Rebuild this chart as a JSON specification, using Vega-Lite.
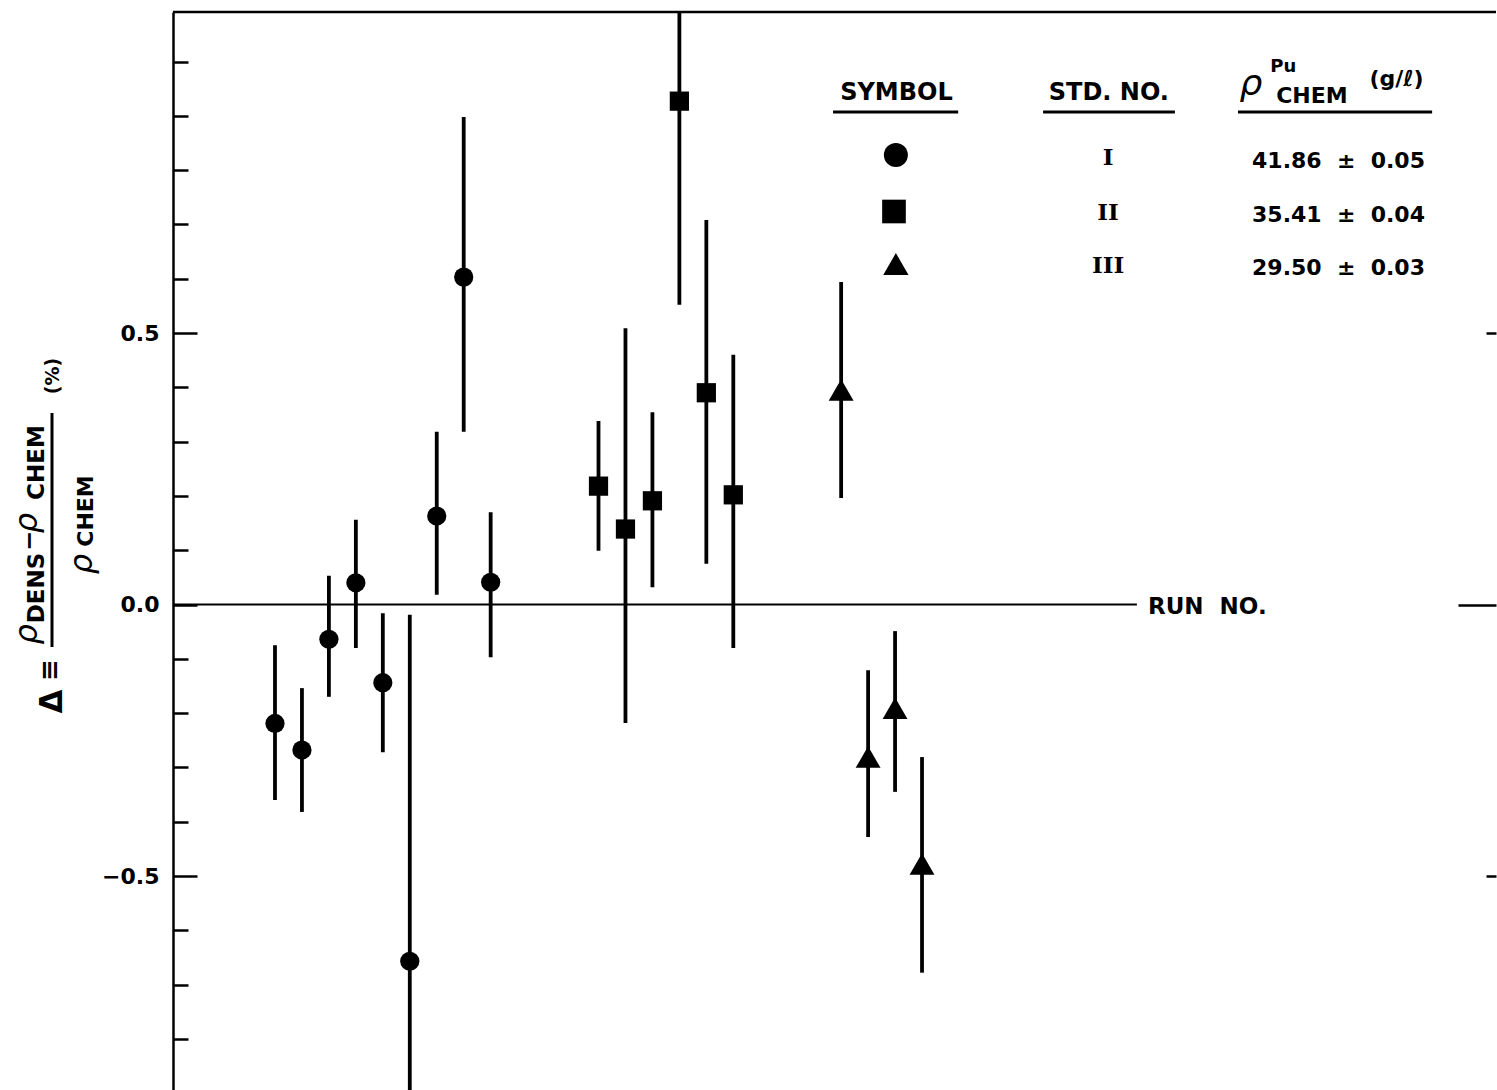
{
  "$schema": "https://vega.github.io/schema/vega-lite/v6.json",
  "width": 1323,
  "height": 1078,
  "autosize": {"type": "none"},
  "padding": {"left": 173, "top": 12, "right": 1, "bottom": 0},
  "background": "white",
  "config": {"view": {"stroke": null}, "font": "DejaVu Sans"},
  "data": {"values": [{}]},
  "datasets": {
    "runs": [
      {"run": 1, "std": "I", "delta": -0.219, "lo": -0.360, "hi": -0.075},
      {"run": 2, "std": "I", "delta": -0.268, "lo": -0.382, "hi": -0.154},
      {"run": 3, "std": "I", "delta": -0.064, "lo": -0.170, "hi": 0.053},
      {"run": 4, "std": "I", "delta": 0.040, "lo": -0.080, "hi": 0.156},
      {"run": 5, "std": "I", "delta": -0.144, "lo": -0.272, "hi": -0.016},
      {"run": 6, "std": "I", "delta": -0.657, "lo": -0.950, "hi": -0.019},
      {"run": 7, "std": "I", "delta": 0.163, "lo": 0.018, "hi": 0.318},
      {"run": 8, "std": "I", "delta": 0.603, "lo": 0.318, "hi": 0.898},
      {"run": 9, "std": "I", "delta": 0.041, "lo": -0.097, "hi": 0.170},
      {"run": 13, "std": "II", "delta": 0.218, "lo": 0.099, "hi": 0.338},
      {"run": 14, "std": "II", "delta": 0.139, "lo": -0.218, "hi": 0.509},
      {"run": 15, "std": "II", "delta": 0.191, "lo": 0.032, "hi": 0.354},
      {"run": 16, "std": "II", "delta": 0.927, "lo": 0.552, "hi": 1.150},
      {"run": 17, "std": "II", "delta": 0.390, "lo": 0.075, "hi": 0.708},
      {"run": 18, "std": "II", "delta": 0.202, "lo": -0.080, "hi": 0.460},
      {"run": 22, "std": "III", "delta": 0.395, "lo": 0.196, "hi": 0.594},
      {"run": 23, "std": "III", "delta": -0.281, "lo": -0.428, "hi": -0.121},
      {"run": 24, "std": "III", "delta": -0.191, "lo": -0.345, "hi": -0.049},
      {"run": 25, "std": "III", "delta": -0.478, "lo": -0.678, "hi": -0.281}
    ]
  },
  "resolve": {"axis": {"y": "independent"}},
  "layer": [
    {
      "data": {"name": "runs"},
      "mark": {"type": "rule", "color": "black", "strokeWidth": 3.8, "clip": true},
      "encoding": {
        "x": {"field": "run", "type": "quantitative",
          "scale": {"domain": [-2.783, 46.29], "nice": false, "zero": false},
          "axis": {"orient": "top", "title": null, "ticks": false, "labels": false, "grid": false,
            "domain": true, "domainColor": "black", "domainWidth": 2.5}},
        "y": {"field": "lo", "type": "quantitative",
          "scale": {"domain": [-0.8941, 1.0912], "nice": false, "zero": false},
          "axis": {"orient": "left", "title": null, "grid": false,
            "values": [-0.8, -0.7, -0.6, -0.5, -0.4, -0.3, -0.2, -0.1, 0, 0.1, 0.2, 0.3, 0.4, 0.5, 0.6, 0.7, 0.8, 0.9, 1.0],
            "domain": true, "domainColor": "black", "domainWidth": 2.5,
            "ticks": true, "tickColor": "black", "tickWidth": 2.5,
            "tickSize": {"condition": {"test": "abs(datum.value - 0.5) < 0.01 || abs(datum.value + 0.5) < 0.01 || abs(datum.value) < 0.01", "value": -24}, "value": -15},
            "labelExpr": "abs(datum.value - 0.5) < 0.01 ? '0.5' : abs(datum.value) < 0.01 ? '0.0' : abs(datum.value + 0.5) < 0.01 ? '\u22120.5' : ''",
            "labelFont": "DejaVu Sans", "labelFontWeight": "bold", "labelFontSize": 22, "labelColor": "black",
            "labelPadding": 38, "labelOverlap": false, "labelFlush": false}},
        "y2": {"field": "hi"}
      }
    },
    {
      "data": {"name": "runs"},
      "mark": {"type": "point", "filled": true, "color": "black", "opacity": 1, "strokeWidth": 0},
      "encoding": {
        "x": {"field": "run", "type": "quantitative", "axis": null},
        "y": {"field": "delta", "type": "quantitative",
          "axis": {"orient": "right", "title": null, "grid": false, "domain": false, "labels": false,
            "values": [-0.5, 0, 0.5], "ticks": true, "tickColor": "black", "tickWidth": 2.5,
            "tickSize": {"condition": {"test": "abs(datum.value) < 0.01", "value": -38}, "value": -10}}},
        "shape": {"field": "std", "type": "nominal",
          "scale": {"domain": ["I", "II", "III"], "range": ["circle", "square", "triangle-up"]}, "legend": null},
        "size": {"condition": {"test": "datum.std === 'III'", "value": 620}, "value": 370}
      }
    },
    {
      "mark": {"type": "rule", "color": "black", "strokeWidth": 2.5},
      "encoding": {"x": {"datum": -2.783, "axis": null}, "x2": {"datum": 46.29}, "y": {"datum": 1.0912, "axis": null}}
    },
    {
      "mark": {"type": "rule", "color": "black", "strokeWidth": 2},
      "encoding": {"x": {"datum": -2.783, "axis": null}, "x2": {"datum": 32.97}, "y": {"datum": 0, "axis": null}}
    },
    {
      "mark": {"type": "text", "text": "RUN\u00a0\u00a0NO.", "font": "DejaVu Sans", "fontWeight": "bold", "fontSize": 23, "align": "left", "baseline": "middle", "color": "black"},
      "encoding": {"x": {"datum": 33.38, "axis": null}, "y": {"datum": -0.004, "axis": null}}
    },
    {
      "mark": {"type": "text", "text": "SYMBOL", "font": "DejaVu Sans", "fontWeight": "bold", "fontSize": 24, "align": "center", "baseline": "middle", "color": "black"},
      "encoding": {"x": {"datum": 24.05, "axis": null}, "y": {"datum": 0.9429, "axis": null}}
    },
    {
      "mark": {"type": "text", "text": "STD.\u00a0NO.", "font": "DejaVu Sans", "fontWeight": "bold", "fontSize": 24, "align": "center", "baseline": "middle", "color": "black"},
      "encoding": {"x": {"datum": 31.93, "axis": null}, "y": {"datum": 0.9429, "axis": null}}
    },
    {
      "mark": {"type": "text", "text": "ρ", "font": "DejaVu Sans", "fontStyle": "italic", "fontSize": 36, "align": "center", "baseline": "middle", "color": "black"},
      "encoding": {"x": {"datum": 37.2, "axis": null}, "y": {"datum": 0.958, "axis": null}}
    },
    {
      "mark": {"type": "text", "text": "Pu", "font": "DejaVu Sans", "fontWeight": "bold", "fontSize": 18, "align": "center", "baseline": "middle", "color": "black"},
      "encoding": {"x": {"datum": 38.4, "axis": null}, "y": {"datum": 0.99, "axis": null}}
    },
    {
      "mark": {"type": "text", "text": "CHEM", "font": "DejaVu Sans", "fontWeight": "bold", "fontSize": 22, "align": "center", "baseline": "middle", "color": "black"},
      "encoding": {"x": {"datum": 39.46, "axis": null}, "y": {"datum": 0.9374, "axis": null}}
    },
    {
      "mark": {"type": "text", "text": "(g/ℓ)", "font": "DejaVu Sans", "fontWeight": "bold", "fontSize": 22, "align": "center", "baseline": "middle", "color": "black"},
      "encoding": {"x": {"datum": 42.6, "axis": null}, "y": {"datum": 0.9678, "axis": null}}
    },
    {
      "mark": {"type": "rule", "color": "black", "strokeWidth": 3},
      "encoding": {"x": {"datum": 21.70, "axis": null}, "x2": {"datum": 26.34}, "y": {"datum": 0.907, "axis": null}}
    },
    {
      "mark": {"type": "rule", "color": "black", "strokeWidth": 3},
      "encoding": {"x": {"datum": 29.49, "axis": null}, "x2": {"datum": 34.38}, "y": {"datum": 0.907, "axis": null}}
    },
    {
      "mark": {"type": "rule", "color": "black", "strokeWidth": 3},
      "encoding": {"x": {"datum": 36.72, "axis": null}, "x2": {"datum": 43.92}, "y": {"datum": 0.907, "axis": null}}
    },
    {
      "mark": {"type": "point", "shape": "circle", "filled": true, "color": "black", "opacity": 1, "size": 576, "strokeWidth": 0},
      "encoding": {"x": {"datum": 24.03, "axis": null}, "y": {"datum": 0.8278, "axis": null}}
    },
    {
      "mark": {"type": "point", "shape": "square", "filled": true, "color": "black", "opacity": 1, "size": 560, "strokeWidth": 0},
      "encoding": {"x": {"datum": 23.96, "axis": null}, "y": {"datum": 0.7238, "axis": null}}
    },
    {
      "mark": {"type": "point", "shape": "triangle-up", "filled": true, "color": "black", "opacity": 1, "size": 640, "strokeWidth": 0},
      "encoding": {"x": {"datum": 24.03, "axis": null}, "y": {"datum": 0.6271, "axis": null}}
    },
    {
      "mark": {"type": "text", "text": "I", "font": "DejaVu Serif", "fontWeight": "bold", "fontSize": 23, "align": "center", "baseline": "middle", "color": "black"},
      "encoding": {"x": {"datum": 31.9, "axis": null}, "y": {"datum": 0.8214, "axis": null}}
    },
    {
      "mark": {"type": "text", "text": "II", "font": "DejaVu Serif", "fontWeight": "bold", "fontSize": 23, "align": "center", "baseline": "middle", "color": "black"},
      "encoding": {"x": {"datum": 31.9, "axis": null}, "y": {"datum": 0.721, "axis": null}}
    },
    {
      "mark": {"type": "text", "text": "III", "font": "DejaVu Serif", "fontWeight": "bold", "fontSize": 23, "align": "center", "baseline": "middle", "color": "black"},
      "encoding": {"x": {"datum": 31.9, "axis": null}, "y": {"datum": 0.6234, "axis": null}}
    },
    {
      "mark": {"type": "text", "text": "41.86\u00a0\u00a0±\u00a0\u00a00.05", "font": "DejaVu Sans", "fontWeight": "bold", "fontSize": 22, "align": "left", "baseline": "middle", "color": "black"},
      "encoding": {"x": {"datum": 37.24, "axis": null}, "y": {"datum": 0.817, "axis": null}}
    },
    {
      "mark": {"type": "text", "text": "35.41\u00a0\u00a0±\u00a0\u00a00.04", "font": "DejaVu Sans", "fontWeight": "bold", "fontSize": 22, "align": "left", "baseline": "middle", "color": "black"},
      "encoding": {"x": {"datum": 37.24, "axis": null}, "y": {"datum": 0.718, "axis": null}}
    },
    {
      "mark": {"type": "text", "text": "29.50\u00a0\u00a0±\u00a0\u00a00.03", "font": "DejaVu Sans", "fontWeight": "bold", "fontSize": 22, "align": "left", "baseline": "middle", "color": "black"},
      "encoding": {"x": {"datum": 37.24, "axis": null}, "y": {"datum": 0.62, "axis": null}}
    },
    {
      "mark": {"type": "text", "text": "Δ", "font": "DejaVu Sans", "fontWeight": "bold", "fontSize": 31, "angle": 270, "align": "center", "baseline": "middle", "color": "black"},
      "encoding": {"x": {"datum": -7.216, "axis": null}, "y": {"datum": -0.1786, "axis": null}}
    },
    {
      "mark": {"type": "text", "text": "≡", "font": "DejaVu Sans", "fontWeight": "bold", "fontSize": 26, "angle": 270, "align": "center", "baseline": "middle", "color": "black"},
      "encoding": {"x": {"datum": -7.327, "axis": null}, "y": {"datum": -0.1206, "axis": null}}
    },
    {
      "mark": {"type": "rule", "color": "black", "strokeWidth": 3},
      "encoding": {"x": {"datum": -7.271, "axis": null}, "y": {"datum": -0.0783, "axis": null}, "y2": {"datum": 0.3527}}
    },
    {
      "mark": {"type": "text", "text": "ρ", "font": "DejaVu Sans", "fontStyle": "italic", "fontSize": 32, "angle": 270, "align": "center", "baseline": "middle", "color": "black"},
      "encoding": {"x": {"datum": -8.2, "axis": null}, "y": {"datum": -0.055, "axis": null}}
    },
    {
      "mark": {"type": "text", "text": "DENS", "font": "DejaVu Sans", "fontWeight": "bold", "fontSize": 23, "angle": 270, "align": "center", "baseline": "middle", "color": "black"},
      "encoding": {"x": {"datum": -7.846, "axis": null}, "y": {"datum": 0.0304, "axis": null}}
    },
    {
      "mark": {"type": "text", "text": "−", "font": "DejaVu Sans", "fontWeight": "bold", "fontSize": 24, "angle": 270, "align": "center", "baseline": "middle", "color": "black"},
      "encoding": {"x": {"datum": -8.088, "axis": null}, "y": {"datum": 0.1169, "axis": null}}
    },
    {
      "mark": {"type": "text", "text": "ρ", "font": "DejaVu Sans", "fontStyle": "italic", "fontSize": 32, "angle": 270, "align": "center", "baseline": "middle", "color": "black"},
      "encoding": {"x": {"datum": -8.2, "axis": null}, "y": {"datum": 0.15, "axis": null}}
    },
    {
      "mark": {"type": "text", "text": "CHEM", "font": "DejaVu Sans", "fontWeight": "bold", "fontSize": 23, "angle": 270, "align": "center", "baseline": "middle", "color": "black"},
      "encoding": {"x": {"datum": -7.846, "axis": null}, "y": {"datum": 0.2615, "axis": null}}
    },
    {
      "mark": {"type": "text", "text": "ρ", "font": "DejaVu Sans", "fontStyle": "italic", "fontSize": 32, "angle": 270, "align": "center", "baseline": "middle", "color": "black"},
      "encoding": {"x": {"datum": -6.15, "axis": null}, "y": {"datum": 0.0746, "axis": null}}
    },
    {
      "mark": {"type": "text", "text": "CHEM", "font": "DejaVu Sans", "fontWeight": "bold", "fontSize": 22, "angle": 270, "align": "center", "baseline": "middle", "color": "black"},
      "encoding": {"x": {"datum": -5.992, "axis": null}, "y": {"datum": 0.1722, "axis": null}}
    },
    {
      "mark": {"type": "text", "text": "(%)", "font": "DejaVu Sans", "fontWeight": "bold", "fontSize": 19, "angle": 270, "align": "center", "baseline": "middle", "color": "black"},
      "encoding": {"x": {"datum": -7.234, "axis": null}, "y": {"datum": 0.4208, "axis": null}}
    }
  ]
}
